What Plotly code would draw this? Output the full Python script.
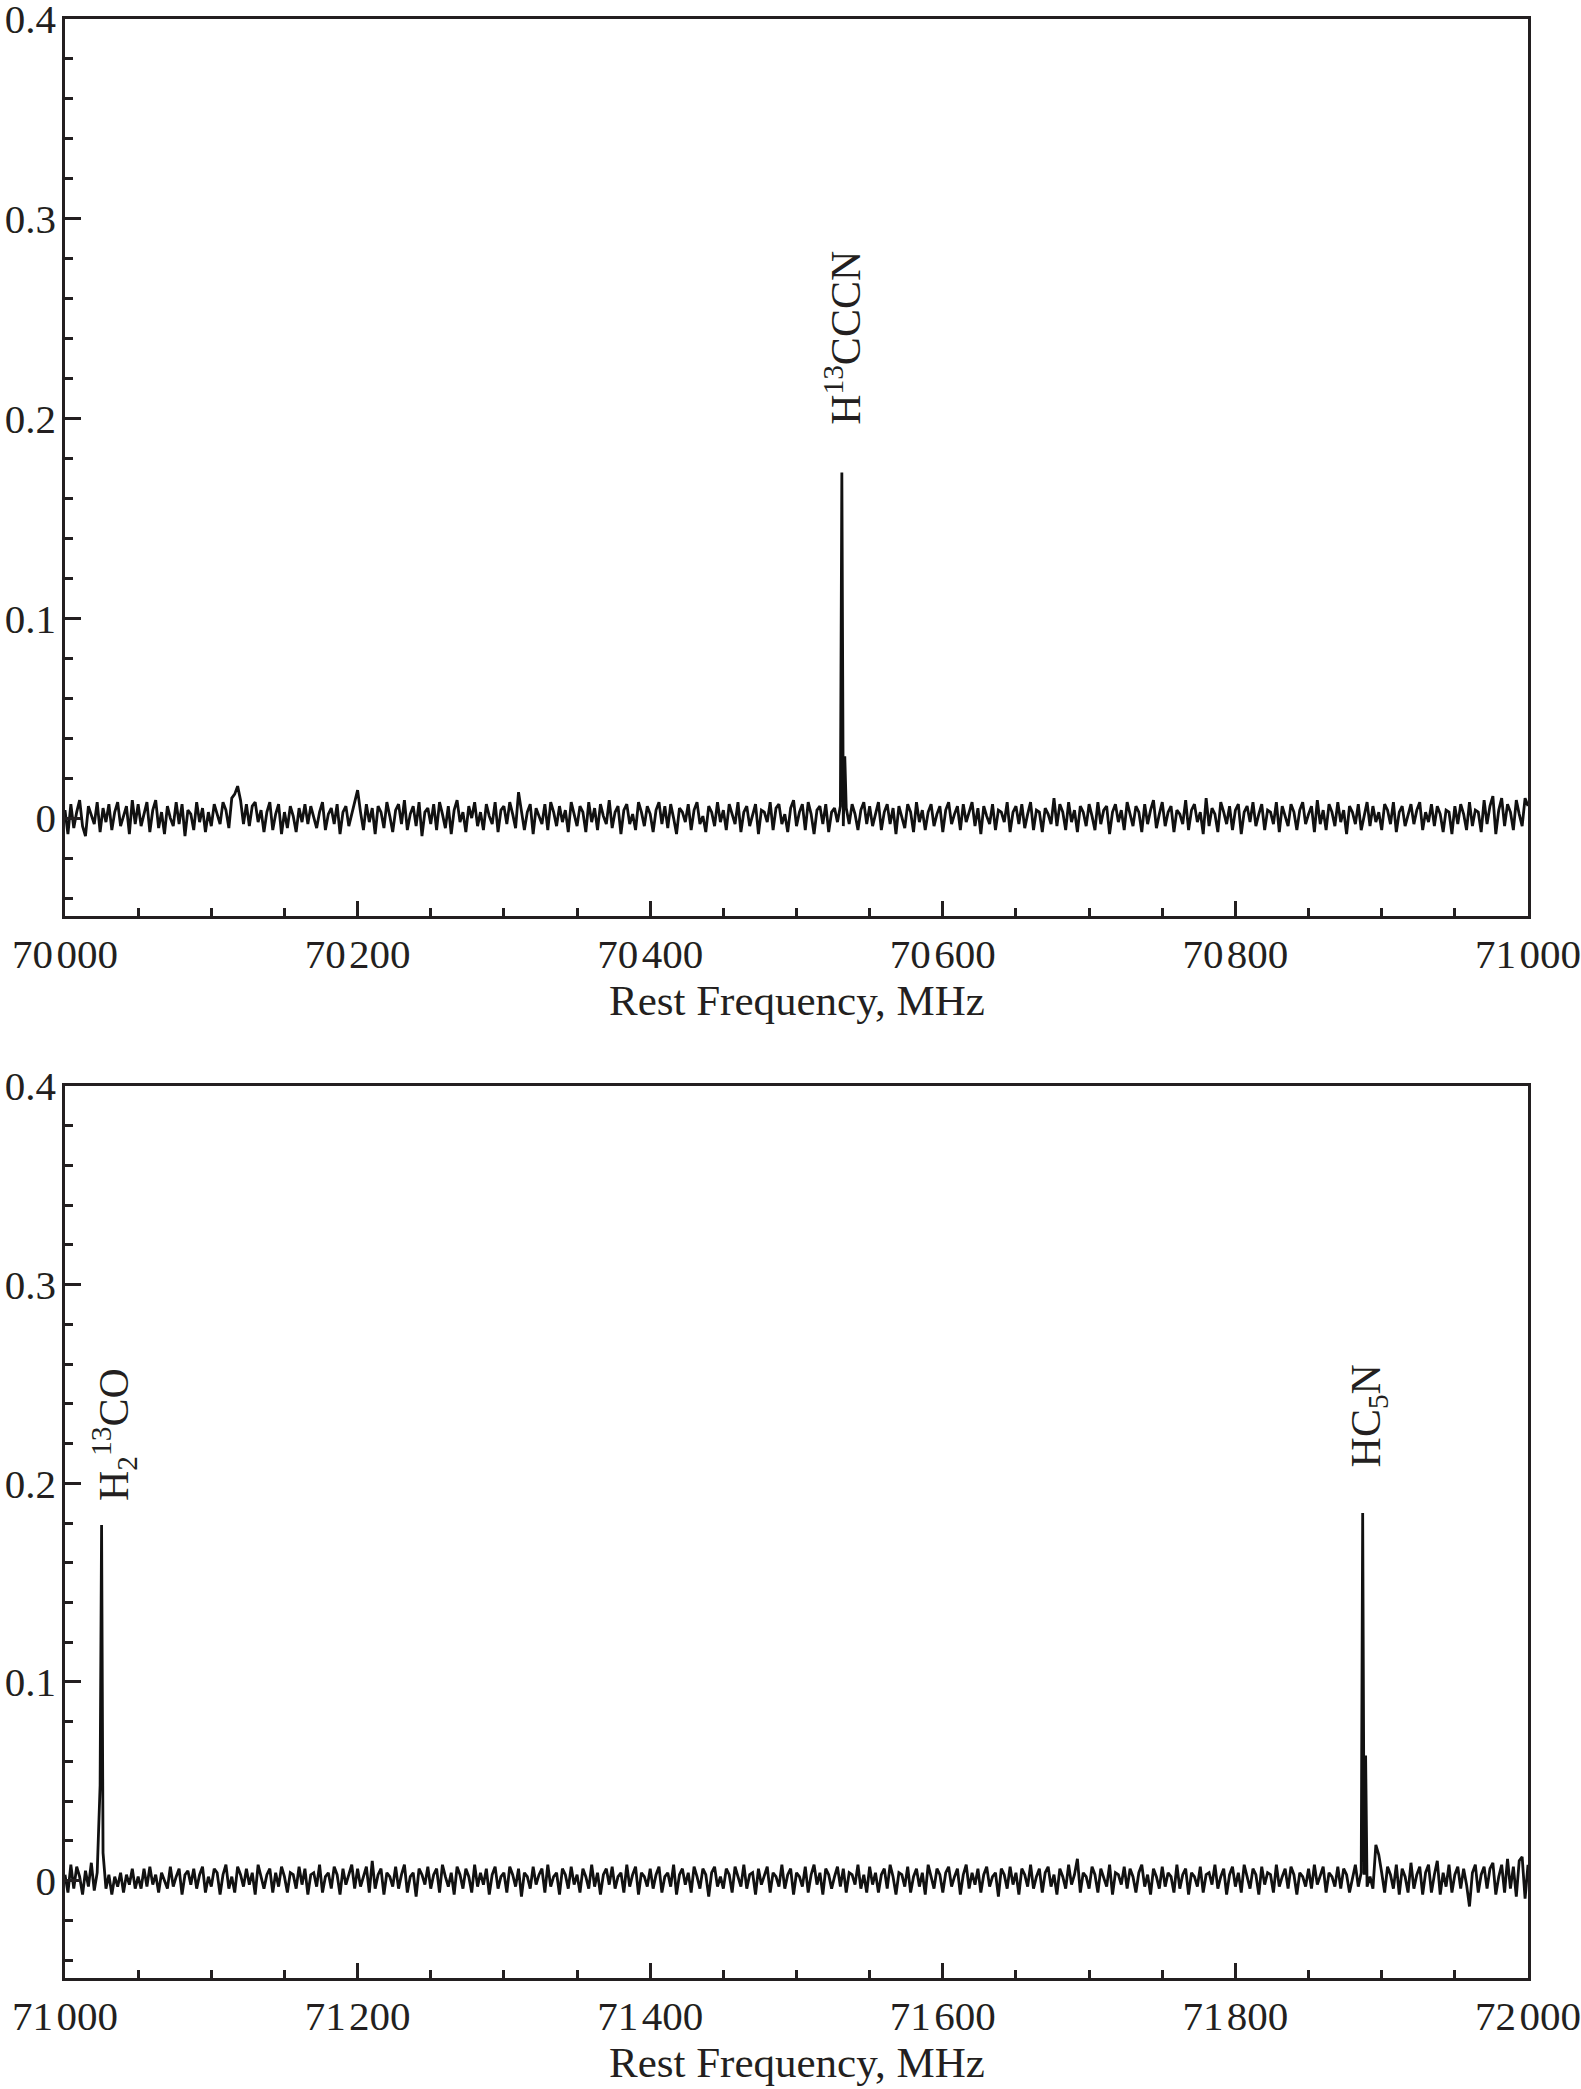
import numpy as np
import plotly.graph_objects as go

# antenna temperature in mK, 2 MHz channels
top_start_mhz = 70000
top_noise_mk = [
    4, -8, 7, -5, 3, 9, -4, -9, 6, 2, -3, 8, -7, 5, -2, 7, -6, 3, 8, -4, 1, 6, -8, 9, -3,
    7, -4, 2, 8, -7, 4, 9, -5, 3, -8, 6, 0, -4, 8, -3, 7, -9, 4, 2, -6, 8, -2, 5, -7, 3,
    -4, 7, 2, -3, 8, 4, -5, 10, 12, 16, 9, -3, 7, -4, 6, 8, -2, 4, -7, 3, 8, -6, 2, 7, -8,
    3, -5, 6, 1, -7, 5, -2, 7, -3, 6, 0, -5, 3, 8, -6, 2, 5, -3, 7, -8, 3, 6, -4, 2, 9,
    14, 3, -6, 7, -2, 5, -8, 6, 3, -5, 8, 1, -7, 4, 7, -3, 9, -6, 2, 6, -4, 8, -9, 3, 5,
    -3, 7, -6, 8, 2, -5, 6, -8, 4, 9, -2, 3, -7, 6, 0, 8, -4, 3, -6, 7, 1, -3, 8, -7, 4,
    6, -3, 8, 2, -5, 13, 4, -6, 3, 7, -8, 5, 1, -3, 7, -6, 8, 3, -4, 6, -2, 4, -7, 8, 2,
    -4, 6, 3, -7, 8, -2, 5, -6, 7, 1, -3, 9, -5, 3, 6, -8, 4, 7, -3, 2, -6, 8, 3, -4, 6,
    2, -7, 4, 8, -3, 6, -5, 7, 0, -8, 5, 3, -2, 7, -6, 4, 8, -3, 1, -7, 6, 3, -4, 8, -2,
    4, -6, 7, 2, -3, 8, -7, 3, 6, -4, 1, 7, -8, 4, 3, -2, 8, -6, 5, 7, -3, 2, -7, 5, 9,
    -4, 3, 7, -6, 8, 2, -8, 4, 6, -3, 7, -7, 3, 5, -2, 6, -4, 5, -3, 7, 2, -6, 4, 8, -3,
    6, -4, 2, 8, -6, 3, 7, -3, 5, -8, 6, 1, -5, 7, 3, -7, 8, -2, 4, -6, 3, 7, -4, 2, 6,
    -7, 4, 8, -3, 2, 6, -6, 7, -2, 3, 8, -4, 5, -8, 6, 1, -3, 7, -6, 4, 3, -2, 8, -7, 3,
    6, -3, 7, -5, 2, 8, -6, 4, 3, -7, 5, 2, -3, 10, -4, 7, 3, -6, 8, -2, 4, -7, 6, 3, -4,
    7, 1, -6, 8, -3, 4, 6, -8, 3, 7, -2, 4, -6, 8, 2, -4, 6, 3, -7, 7, -3, 4, 9, -5, 2,
    8, -4, 3, 6, -7, 4, 2, -3, 9, -6, 4, 7, -2, 3, -8, 10, -4, 5, 2, -7, 8, 3, -3, 6, -6,
    4, 7, -8, 3, 6, -2, 8, -4, 2, 7, -6, 4, 3, -3, 8, -7, 6, 1, -4, 7, 3, -6, 4, 8, -3,
    2, 6, -7, 9, -3, 4, -6, 7, 3, -4, 8, -2, 4, -8, 6, 3, -3, 7, -6, 2, 8, -4, 6, -2, 3,
    -6, 7, 4, -3, 8, -7, 3, 6, -4, 2, 7, -3, 4, 8, -6, 3, -2, 7, -4, 6, 2, -7, 4, 3, -8,
    6, -3, 7, 2, -6, 8, -4, 4, 3, -7, 9, -3, 6, 11, -8, 4, 10, -4, 7, 3, -6, 9, 2, -4, 10,
    6,
]
top_line_mhz = [70531, 70533]
top_line_mk = [173, 31]

bottom_start_mhz = 71000
bottom_noise_mk = [
    3, -6, 8, -4, 7, 2, -7, 5, -3, 9, -5, 4, 48, 14, -4, 3, -7, 2, -3, 4, -6, 3, -2, 6, -4,
    2, -4, 6, -3, 7, -2, 3, -6, 4, 0, -4, 7, -3, 2, 6, -7, 3, 5, -2, 6, -4, 3, 7, -6, 2,
    -3, 6, 4, -7, 3, 8, -4, 2, -6, 7, 3, -3, 6, -2, 4, -7, 8, 2, -4, 3, 6, -6, 4, -3, 7,
    2, -6, 4, 3, -4, 7, -2, 6, -7, 3, 4, -3, 8, -6, 2, 4, -4, 7, 3, -7, 6, -2, 3, 8, -4,
    6, -3, 2, 7, -6, 10, -4, 3, 6, -7, 4, 2, -3, 7, -4, 3, 8, -6, 2, 4, -8, 6, 3, -2, 7,
    -4, 3, 6, -6, 8, 2, -3, 4, -7, 7, 3, -4, 6, 2, -6, 8, -3, 4, -2, 6, -7, 3, 7, -4, 2,
    4, -6, 7, 3, -3, 6, -8, 4, 2, -4, 7, -2, 3, 6, -6, 8, -3, 2, 4, -7, 6, 3, -4, 7, -2,
    3, -6, 6, 2, -4, 8, -3, 4, -7, 3, 6, -2, 7, -4, 2, 4, -6, 8, -3, 3, 7, -7, 4, 2, -3,
    6, -4, 3, 7, -6, 2, 4, -3, 8, -7, 3, 6, -2, 4, -6, 7, 2, -4, 6, 3, -8, 4, 7, -3, 2,
    -4, 6, 3, -6, 7, 2, -3, 8, -4, 3, 4, -7, 6, -2, 3, 7, -6, 4, 2, -3, 8, -4, 3, 6, -7,
    4, 2, -3, 7, -6, 3, 8, -2, 4, -7, 6, 3, -4, 2, 7, -3, 6, -6, 4, 3, -2, 8, -4, 3, -6,
    7, -2, 4, -6, 3, 6, -4, 8, 2, -7, 4, 3, -3, 7, -6, 2, 6, -3, 4, -7, 8, 2, -4, 6, 3,
    -6, 4, 7, -3, 2, 6, -7, 3, 8, -4, 4, -2, 6, -6, 3, 7, -3, 2, 4, -8, 6, 3, -4, 7, -2,
    4, -7, 6, 3, -3, 8, -4, 2, 6, -6, 4, 7, -3, 3, -7, 6, 2, -4, 8, -2, 3, 11, -6, 4, 2,
    -4, 7, 3, -6, 6, 2, -3, 8, -7, 4, 3, -2, 7, -4, 6, 2, -6, 4, 8, -3, 3, -7, 6, 2, -4,
    7, -3, 4, 2, -6, 8, -4, 3, 6, -7, 4, 2, -3, 7, -6, 3, 4, -2, 8, -4, 2, 6, -7, 3, 7,
    -3, 4, -6, 8, 2, -4, 6, 3, -7, 7, -2, 4, 3, -6, 8, -3, 2, 6, -4, 7, 3, -7, 4, 2, -3,
    6, -4, 8, -2, 3, 7, -6, 4, 2, -3, 7, -4, 6, 3, -6, 2, 8, -3, 4, 3, -3, 2, -4, 18, 13,
    4, -6, 7, 3, -4, 8, -7, 6, 2, -6, 9, -4, 3, 7, -7, 4, 8, -6, 3, 10, -7, 4, -3, 8, -6,
    3, 7, -4, 6, -2, -13, 4, 8, -6, 3, 7, -4, 6, 9, -7, 2, 8, -6, 11, -4, 7, -8, 10, 12, -9,
    8,
]
bottom_line_mhz = [71025, 71887, 71889]
bottom_line_mk = [179, 185, 63]

top_labels = ["H<sup>13</sup>CCCN"]
top_label_mhz = [70532]
bottom_labels = ["H<sub>2</sub><sup>13</sup>CO", "HC<sub>5</sub>N"]
bottom_label_mhz = [71033, 71891]

FONT = "Liberation Serif"
INK = "#231f20"
W, H = 1581, 2089


def px_x(p):
    return p / W


def px_y(p):
    return 1 - p / H


def spectrum(start, noise_mk, line_mhz, line_mk):
    f = np.concatenate([start + 2 * np.arange(len(noise_mk)), line_mhz])
    t = np.concatenate([noise_mk, line_mk]) / 1000.0
    order = np.argsort(f, kind="stable")
    return f[order], t[order]


fig = go.Figure()

f1, t1 = spectrum(top_start_mhz, top_noise_mk, top_line_mhz, top_line_mk)
f2, t2 = spectrum(bottom_start_mhz, bottom_noise_mk, bottom_line_mhz, bottom_line_mk)

fig.add_trace(go.Scatter(x=f1, y=t1, mode="lines", line=dict(color="#111", width=2.8),
                         xaxis="x", yaxis="y", showlegend=False))
fig.add_trace(go.Scatter(x=f2, y=t2, mode="lines", line=dict(color="#111", width=2.8),
                         xaxis="x2", yaxis="y2", showlegend=False))

xdom = [px_x(65), px_x(1528)]
top_dom = [px_y(916), px_y(19)]
bot_dom = [px_y(1978), px_y(1086)]

common = dict(showline=True, linecolor=INK, linewidth=2.5, mirror=True,
              ticks="inside", tickcolor=INK, tickwidth=2.5, showgrid=False,
              zeroline=False, automargin=False, ticklabeloverflow="allow",
              tickfont=dict(family=FONT, size=41, color=INK))


def xaxis(start, anchor):
    vals = list(range(start, start + 1001, 200))
    text = [f"{v // 1000}\u200a{v % 1000:03d}" for v in vals]
    return dict(common, domain=xdom, anchor=anchor, range=[start, start + 1000],
                tickmode="array", tickvals=vals, ticktext=text, ticklen=15,
                minor=dict(tickmode="linear", tick0=start, dtick=50, ticklen=8,
                           ticks="inside", tickcolor=INK, tickwidth=2.5, showgrid=False))


def yaxis(dom, anchor):
    return dict(common, domain=dom, anchor=anchor, range=[-0.049, 0.4],
                tickmode="linear", tick0=0, dtick=0.1, ticklen=16, ticklabelstandoff=-2,
                minor=dict(tickmode="linear", tick0=0, dtick=0.02, ticklen=8,
                           ticks="inside", tickcolor=INK, tickwidth=2.5, showgrid=False))


annotations = []
for txt, f in zip(top_labels, top_label_mhz):
    annotations.append(dict(text=txt, x=f, y=0.196, xref="x", yref="y", showarrow=False,
                            textangle=-90, xanchor="center", yanchor="bottom",
                            font=dict(family=FONT, size=42, color=INK)))
for txt, f, y in zip(bottom_labels, bottom_label_mhz, [0.190, 0.207]):
    annotations.append(dict(text=txt, x=f, y=y, xref="x2", yref="y2", showarrow=False,
                            textangle=-90, xanchor="center", yanchor="bottom",
                            font=dict(family=FONT, size=42, color=INK)))
for ypix in [1000, 2062]:
    annotations.append(dict(text="Rest Frequency, MHz", x=px_x(797), y=px_y(ypix),
                            xref="paper", yref="paper", showarrow=False,
                            xanchor="center", yanchor="middle",
                            font=dict(family=FONT, size=43, color=INK)))

fig.update_layout(
    width=W, height=H, autosize=False,
    margin=dict(l=0, r=0, t=0, b=0),
    paper_bgcolor="white", plot_bgcolor="white",
    xaxis=xaxis(top_start_mhz, "y"),
    yaxis=yaxis(top_dom, "x"),
    xaxis2=xaxis(bottom_start_mhz, "y2"),
    yaxis2=yaxis(bot_dom, "x2"),
    annotations=annotations,
)

# drop the browser's default body margin so the figure sits at the page corner
fig.write_html("out.html", config={"displayModeBar": False},
               post_script="document.body.style.margin = '0';")
